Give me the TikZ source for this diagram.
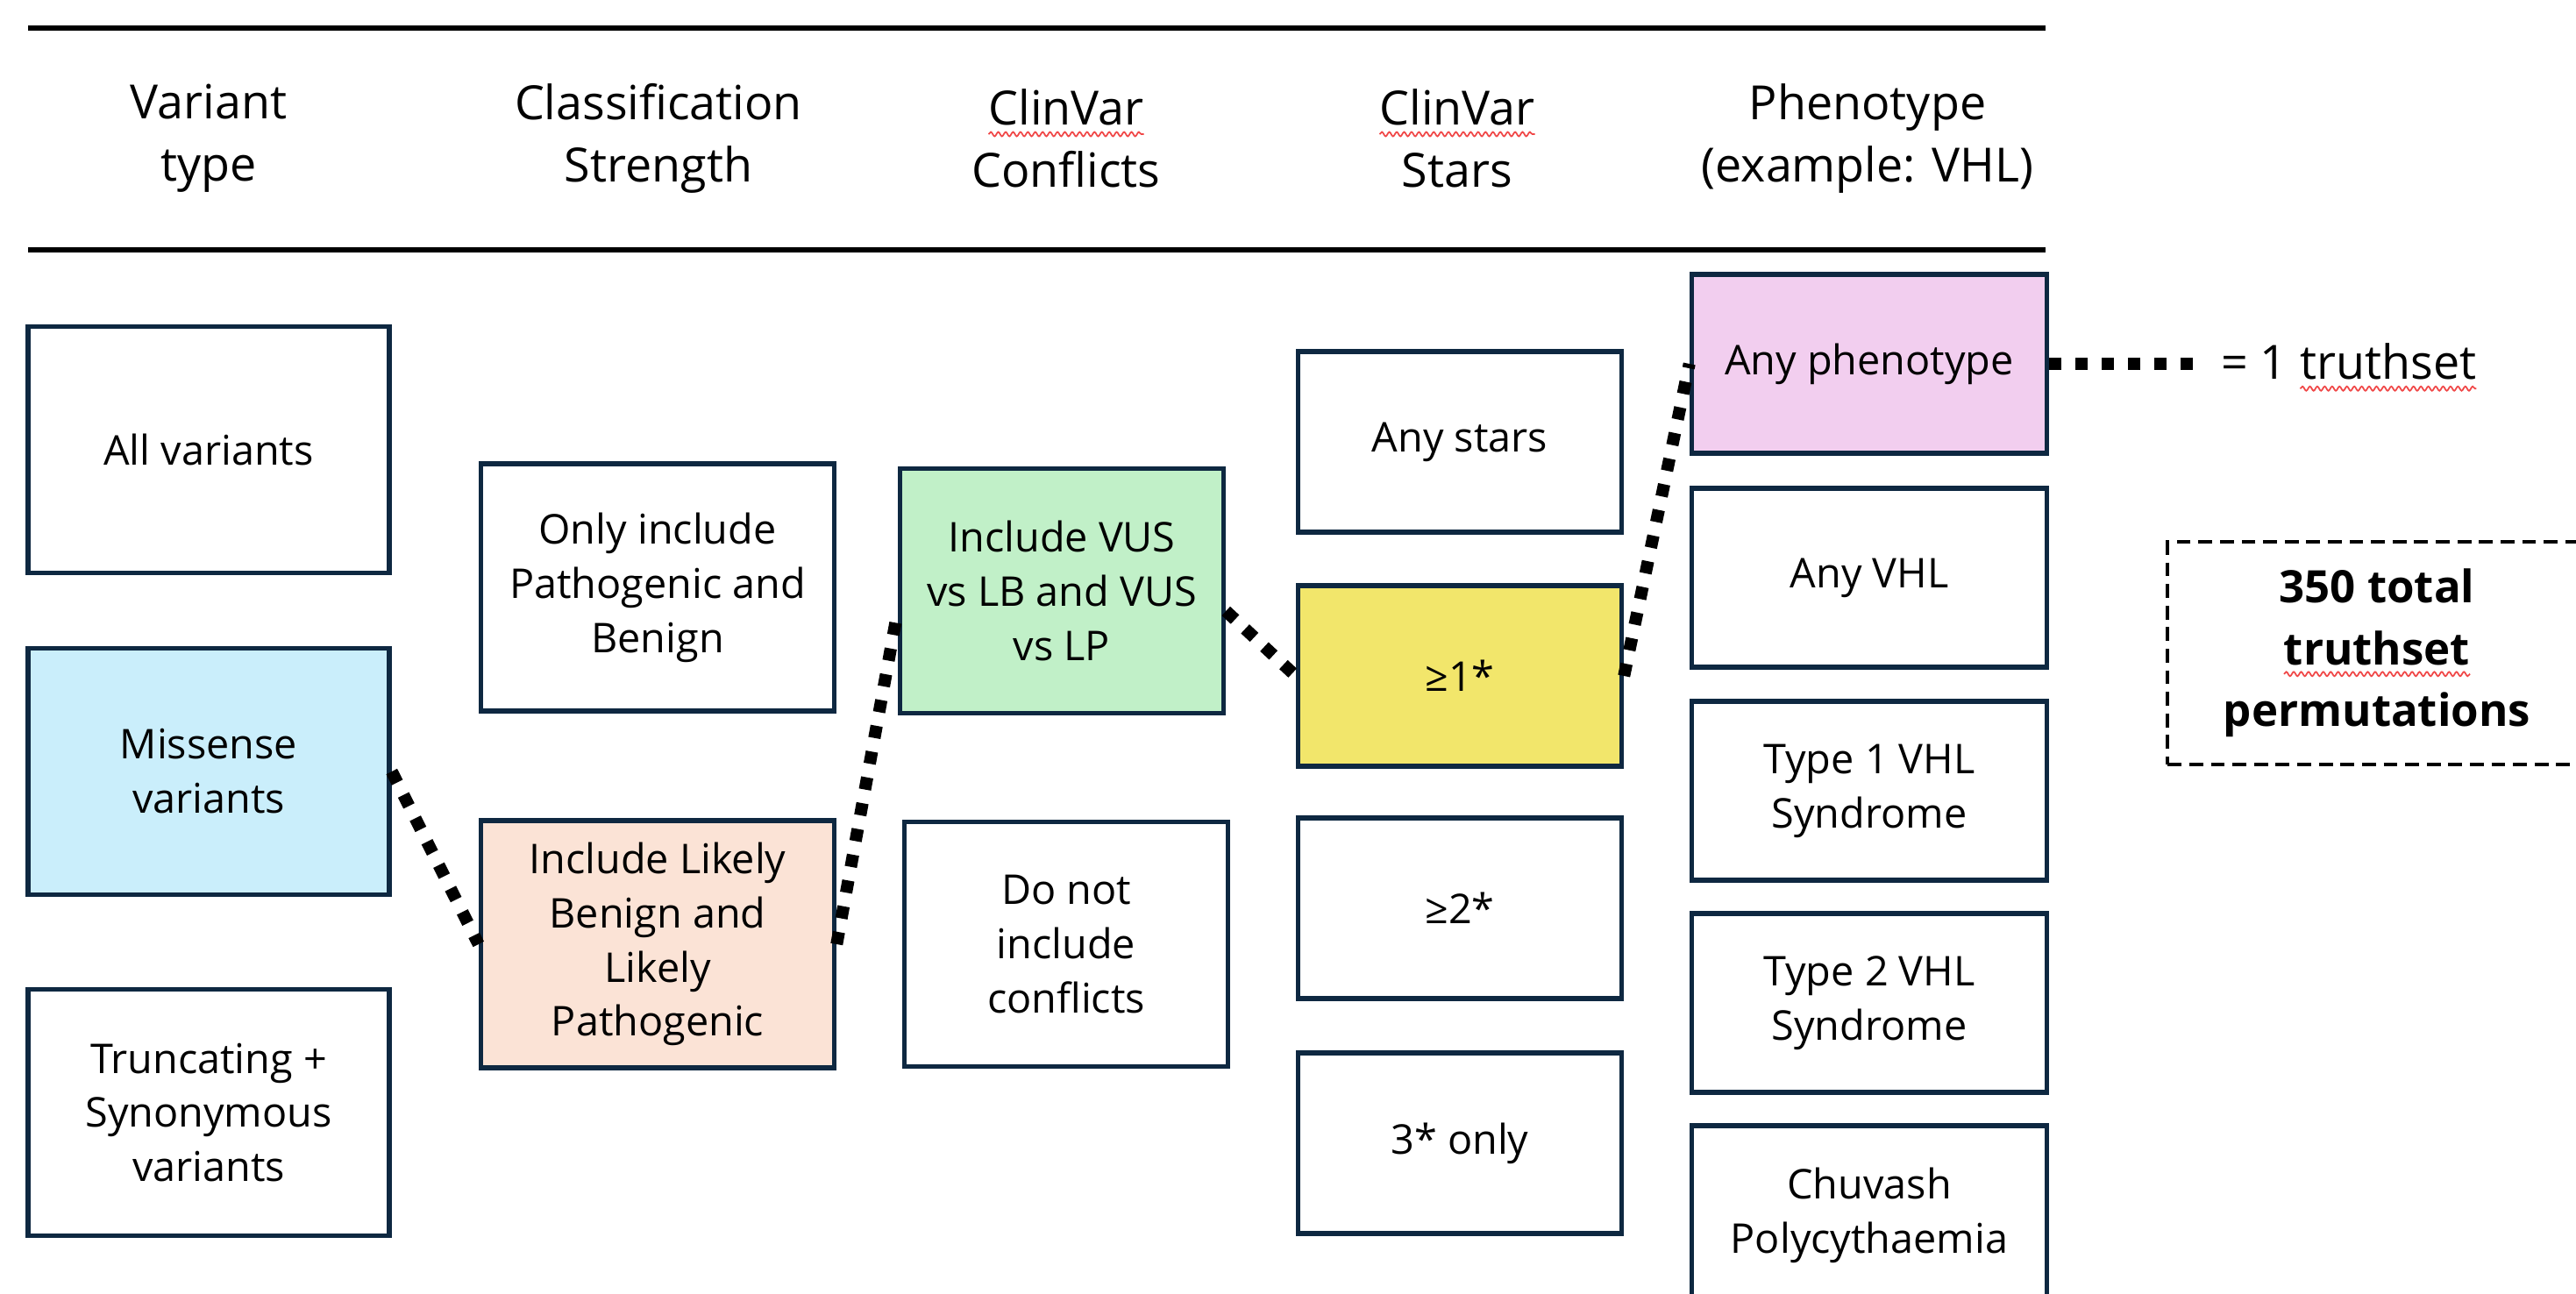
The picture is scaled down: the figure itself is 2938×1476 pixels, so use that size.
\documentclass[tikz,border=0pt]{standalone}
\usepackage{fontspec}
\setmainfont{Open Sans}
\usepackage{tikz}
\usetikzlibrary{positioning,decorations.pathmorphing}
\definecolor{edgeC}{HTML}{0E2841}
\definecolor{colorA}{HTML}{CAEEFB}
\definecolor{colorB}{HTML}{FBE3D6}
\definecolor{colorC}{HTML}{C1F0C8}
\definecolor{colorD}{HTML}{F2E66B}
\definecolor{colorE}{HTML}{F2CEEF}
\definecolor{waveC}{HTML}{F04848}
\newcommand*{\spellmark}[1]{\tikz[baseline=(sw.base)]{%
	\node[inner sep=0pt, outer sep=0pt, minimum width=0pt, minimum height=0pt,
		draw=none, fill=none] (sw) {#1};
	\draw[waveC, solid, line width=0.5pt, decorate,
		decoration={snake, amplitude=0.7pt, segment length=2.4pt}]
		([yshift=-3pt]sw.base west) -- ([yshift=-3pt]sw.base east);}}

\begin{document}
\begin{tikzpicture}[x=0.01cm, y=-0.01cm,
		box/.style={draw=edgeC, line width=1.5pt, align=center, inner sep=0pt,
			font=\fontsize{13.3}{17.6}\selectfont},
		boxA/.style={box, minimum width=4.12cm, minimum height=2.81cm},
		boxB/.style={box, minimum width=4.03cm, minimum height=2.82cm},
		boxC/.style={box, minimum width=3.69cm, minimum height=2.79cm},
		boxD/.style={box, minimum width=3.69cm, minimum height=2.06cm},
		boxE/.style={box, minimum width=4.05cm, minimum height=2.04cm},
		head/.style={align=center, font=\fontsize{15.3}{20.3}\selectfont},
		rule/.style={line width=1.5pt},
		dotline/.style={line width=4pt, dash pattern=on 4pt off 4.5pt},
	]
		\useasboundingbox (0,0) rectangle (2938,1476);
		\clip (0,0) rectangle (2938,1476);
		%
		\draw[rule] (32,32) -- (2333,32);
		\draw[rule] (32,285) -- (2333,285);
		\node[head] (hvar) at (238,158) {Variant\\type};
		\node[head] (hcls) at (751,158) {Classification\\Strength};
		\node[head] (hconf) at (1216,158) {\spellmark{ClinVar}\\Conflicts};
		\node[head] (hstar) at (1662,158) {\spellmark{ClinVar}\\Stars};
		\node[head] (hphen) at (2130,158) {Phenotype\\(example: VHL)};
		%
		\node[boxA] (allvar) at (238,513) {All variants};
		\node[boxA, fill=colorA] (missense) at (238,880) {Missense\\variants};
		\node[boxA] (trunc) at (238,1269) {Truncating +\\Synonymous\\variants};
		%
		\node[boxB] (onlypb) at (750,670) {Only include\\Pathogenic and\\Benign};
		\node[boxB, fill=colorB] (lblp) at (750,1077) {Include Likely\\Benign and\\Likely\\Pathogenic};
		%
		\node[boxC, fill=colorC] (vus) at (1211,674) {Include VUS\\vs LB and VUS\\vs LP};
		\node[boxC] (noconf) at (1216,1077) {Do not\\include\\conflicts};
		%
		\node[boxD] (anystar) at (1665,504) {Any stars};
		\node[boxD, fill=colorD] (star1) at (1665,771) {≥1*};
		\node[boxD] (star2) at (1665,1036) {≥2*};
		\node[boxD] (star3) at (1665,1304) {3* only};
		%
		\node[boxE, fill=colorE] (anyph) at (2132,415) {Any phenotype};
		\node[boxE] (anyvhl) at (2132,659) {Any VHL};
		\node[boxE] (vhl1) at (2132,902) {Type 1 VHL\\Syndrome};
		\node[boxE] (vhl2) at (2132,1144) {Type 2 VHL\\Syndrome};
		\node[boxE] (chuvash) at (2132,1386) {Chuvash\\Polycythaemia};
		%
		\draw[dotline] (missense.east) -- (lblp.west);
		\draw[dotline] (lblp.east) -- (vus.187);
		\draw[dotline] (vus.-7) -- (star1.west);
		\draw[dotline] (star1.east) -- (anyph.west);
		%
		\node[head, inner sep=0pt, right=1.95cm of anyph, yshift=-1.2pt] (truth) {= 1 \spellmark{truthset}};
		\draw[dotline, shorten >=9pt] (anyph.east) -- (anyph.east -| truth.west);
		%
		\node[draw, line width=1.1pt, dash pattern=on 4.5pt off 2.5pt, align=center,
			minimum width=4.77cm, minimum height=2.53cm,
			font=\fontsize{14.5}{20}\selectfont\bfseries] (total) at (2711,745)
			{350 total\\\spellmark{truthset}\\permutations};
\end{tikzpicture}
\end{document}
